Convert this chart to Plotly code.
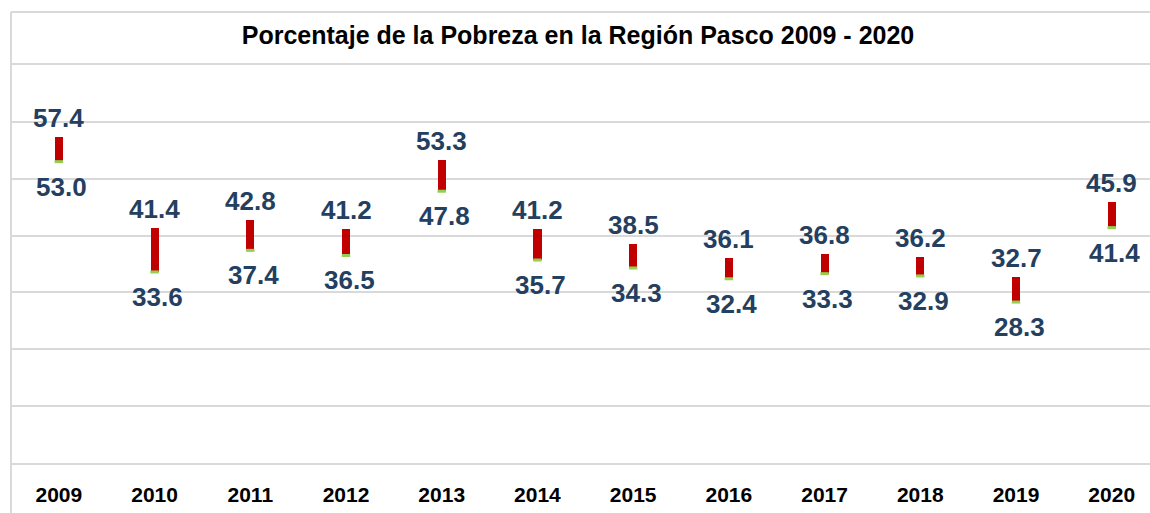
import plotly.graph_objects as go

# Poverty rate range (lower / upper bound) for Pasco region, by year
years = ["2009", "2010", "2011", "2012", "2013", "2014",
         "2015", "2016", "2017", "2018", "2019", "2020"]
upper = [57.4, 41.4, 42.8, 41.2, 53.3, 41.2, 38.5, 36.1, 36.8, 36.2, 32.7, 45.9]
lower = [53.0, 33.6, 37.4, 36.5, 47.8, 35.7, 34.3, 32.4, 33.3, 32.9, 28.3, 41.4]

idx = list(range(len(years)))
span = [u - l for u, l in zip(upper, lower)]

LABEL_COLOR = "#243F60"
GRID = "#D9D9D9"
FONT = "Liberation Sans"

fig = go.Figure()

# red high-low bars
fig.add_trace(go.Bar(
    x=idx, y=span, base=lower, width=0.085,
    marker=dict(color="#C00000", line=dict(width=0)),
    hoverinfo="skip", showlegend=False,
))

# small green tick at the lower end of each bar
fig.add_trace(go.Scatter(
    x=idx, y=lower, mode="markers",
    marker=dict(symbol="line-ew", size=6, line=dict(width=3, color="#92D050")),
    hoverinfo="skip", showlegend=False,
))

annotations = []
for i, (u, l) in enumerate(zip(upper, lower)):
    annotations.append(dict(
        x=i, y=u, xref="x", yref="y", text=f"<b>{u:.1f}</b>", showarrow=False,
        yshift=19, yanchor="middle",
        font=dict(family=FONT, size=26, color=LABEL_COLOR),
    ))
    annotations.append(dict(
        x=i, y=l, xref="x", yref="y", text=f"<b>{l:.1f}</b>", showarrow=False,
        yshift=-25, xshift=3, yanchor="middle",
        font=dict(family=FONT, size=26, color=LABEL_COLOR),
    ))

# chart border (top and left edges)
shapes = [
    dict(type="line", xref="paper", yref="paper", x0=0, x1=1.05, y0=1.133, y1=1.133,
         line=dict(color=GRID, width=2), layer="below"),
    dict(type="line", xref="paper", yref="paper", x0=0, x1=0, y0=-0.2, y1=1.133,
         line=dict(color=GRID, width=2), layer="below"),
]

fig.update_layout(
    width=1150, height=513,
    margin=dict(l=11, r=0, t=65, b=50),
    paper_bgcolor="white", plot_bgcolor="white",
    title=dict(
        text="<b>Porcentaje de la Pobreza en la Región Pasco 2009 - 2020</b>",
        x=0.5026, xref="container", xanchor="center",
        y=0.932, yref="container", yanchor="middle",
        font=dict(family=FONT, size=25, color="black"),
    ),
    xaxis=dict(
        range=[-0.5, 11.4], tickvals=idx, ticktext=[f"<b>{y}</b>" for y in years],
        showgrid=False, zeroline=False, ticks="",
        showline=True, mirror=True, linecolor=GRID, linewidth=2,
        tickfont=dict(family=FONT, size=21, color="black"),
        ticklabelstandoff=12,
    ),
    yaxis=dict(
        range=[0, 70], dtick=10, showgrid=True, gridcolor=GRID, gridwidth=2,
        zeroline=False, showticklabels=False, showline=False,
    ),
    annotations=annotations,
    shapes=shapes,
    bargap=0,
)

fig.write_html("out.html")
